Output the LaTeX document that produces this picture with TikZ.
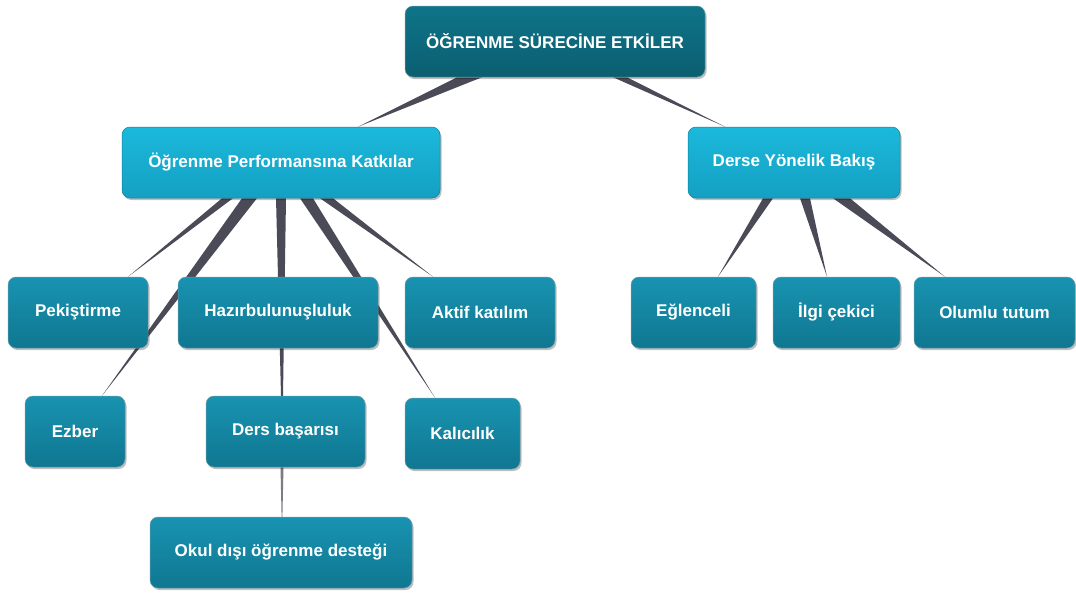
\documentclass[tikz,border=0pt]{standalone}
\usepackage{fontspec}
\setmainfont{Liberation Sans}
\usetikzlibrary{shadows}
\definecolor{rootTop}{HTML}{0F7489}
\definecolor{rootBot}{HTML}{0B5E70}
\definecolor{midTop}{HTML}{1BB9DC}
\definecolor{midBot}{HTML}{14A0C2}
\definecolor{leafTop}{HTML}{1893B1}
\definecolor{leafBot}{HTML}{107791}
\definecolor{edgeDark}{HTML}{0A5A6B}
\definecolor{connGrey}{HTML}{4A4B57}
\definecolor{connLight}{HTML}{7A7B84}
\tikzset{
  box/.style={rectangle, rounded corners=8pt, minimum height=71pt, inner sep=0pt,
    text=white, font=\bfseries\fontsize{17}{20}\selectfont, align=center,
    draw=edgeDark!60, line width=0.5pt,
    drop shadow={shadow xshift=1.5pt, shadow yshift=-2pt, opacity=0.25, fill=black}},
  rootbox/.style={box, top color=rootTop, bottom color=rootBot},
  midbox/.style={box, top color=midTop, bottom color=midBot, draw=midBot!80!black},
  leafbox/.style={box, top color=leafTop, bottom color=leafBot},
  connector/.style={fill=connGrey},
}
\newcommand{\conn}[6][connector]{\fill[#1] ([xshift=#3]#2.south) -- ([xshift=#4]#2.south) -- ([xshift=#6]#5.north) -- cycle;}
\begin{document}
\begin{tikzpicture}[x=1pt,y=-1pt]
\useasboundingbox (0,0) rectangle (1076,595);
% nodes (drawn later on top via layers) -- define positions first
\begin{scope}[overlay]
\end{scope}
\pgfdeclarelayer{bg}
\pgfsetlayers{bg,main}
\node[rootbox, minimum width=300pt] (root) at (555,41.5) {ÖĞRENME SÜRECİNE ETKİLER};
\node[midbox, minimum width=318pt] (L) at (281,162.5) {Öğrenme Performansına Katkılar};
\node[midbox, minimum width=212pt] (R) at (794,162.5) {Derse Yönelik Bakış};
\node[leafbox, minimum width=140pt] (pek) at (78,312.5) {Pekiştirme};
\node[leafbox, minimum width=200pt] (haz) at (278,312.5) {Hazırbulunuşluluk};
\node[leafbox, minimum width=150pt] (akt) at (480,312.5) {Aktif katılım};
\node[leafbox, minimum width=100pt] (ezb) at (75,431.5) {Ezber};
\node[leafbox, minimum width=159pt] (ders) at (285.5,431.5) {Ders başarısı};
\node[leafbox, minimum width=115pt] (kal) at (462.5,433.5) {Kalıcılık};
\node[leafbox, minimum width=262pt] (okul) at (281,552.5) {Okul dışı öğrenme desteği};
\node[leafbox, minimum width=125pt] (egl) at (693.5,312.5) {Eğlenceli};
\node[leafbox, minimum width=127pt] (ilgi) at (836.5,312.5) {İlgi çekici};
\node[leafbox, minimum width=161pt] (olu) at (994.5,312.5) {Olumlu tutum};
\begin{pgfonlayer}{bg}
\conn{root}{-98}{-73}{L}{77}
\conn{root}{58}{72}{R}{-69}
\conn{L}{-59}{-48}{pek}{50}
\conn{L}{-39}{-24}{ezb}{27}
\fill[connector] ([xshift=-5]L.south) -- ([xshift=5]L.south) -- ([xshift=-2.5]ders.north) -- ([xshift=-4.5]ders.north) -- cycle;
\conn{L}{19}{32}{kal}{-27.5}
\conn{L}{39}{52}{akt}{-47}
\conn{R}{-31}{-21}{egl}{24.5}
\conn{R}{6}{16}{ilgi}{-9.5}
\conn{R}{39}{56}{olu}{-49.5}
\fill[connLight] ([xshift=-5]ders.south) -- ([xshift=-2]ders.south) -- ([xshift=1.4]okul.north) -- ([xshift=0.6]okul.north) -- cycle;
\end{pgfonlayer}
\end{tikzpicture}
\end{document}
